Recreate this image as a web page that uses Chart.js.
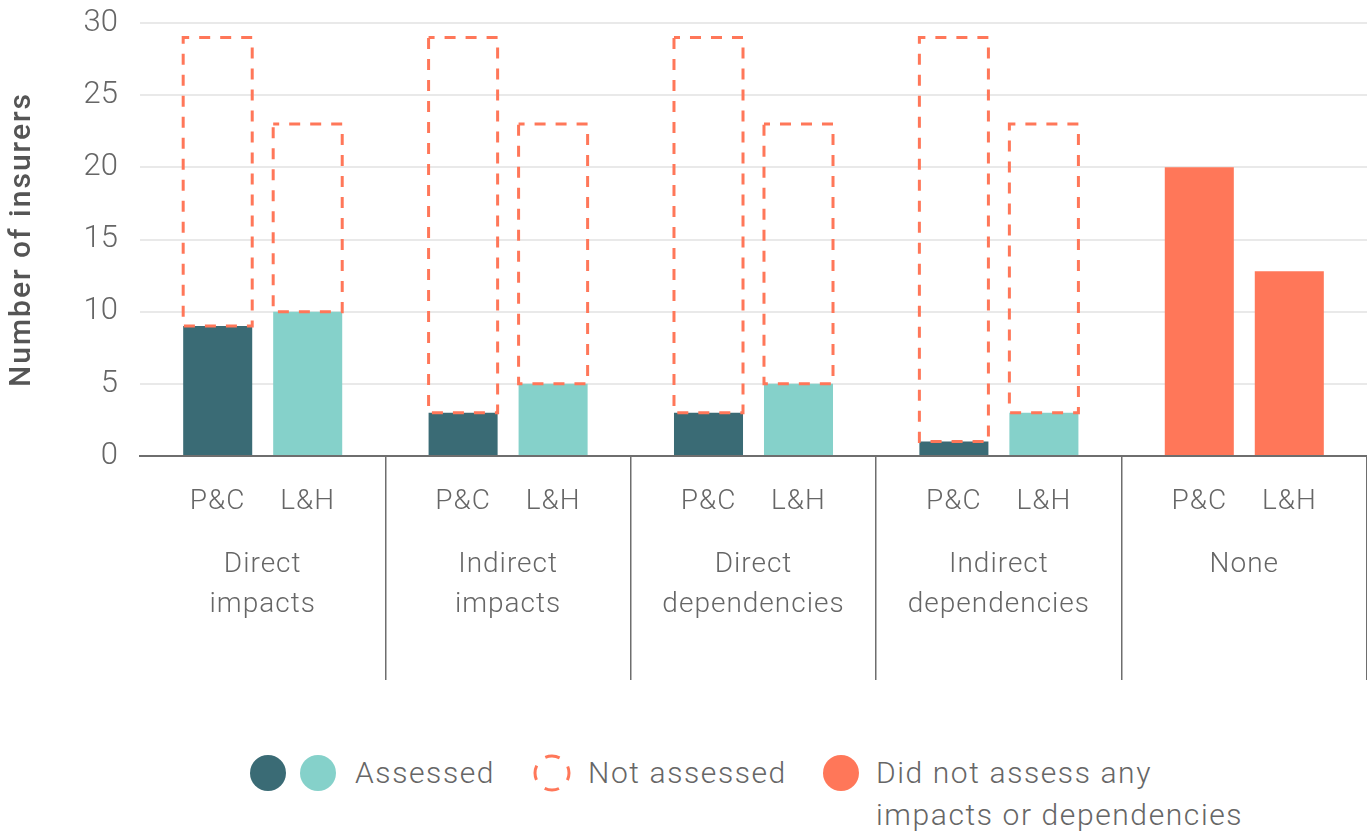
<!DOCTYPE html>
<html>
<head>
<meta charset="utf-8">
<title>Number of insurers assessing impacts and dependencies</title>
<script src="https://cdn.jsdelivr.net/npm/chart.js@4.4.1/dist/chart.umd.min.js"></script>
<style>
  html, body { margin: 0; padding: 0; background: #fff; }
  body { width: 1367px; height: 832px; position: relative; overflow: hidden;
         font-family: Roboto, "Helvetica Neue", Arial, sans-serif; }
  #wrap { position: absolute; left: 0; top: 0; width: 1367px; height: 690px; }
  .dot { position: absolute; width: 36px; height: 36px; border-radius: 50%; }
  .key { position: absolute; font-size: 30px; font-weight: 300; color: #666;
         letter-spacing: 1.6px; line-height: 42px; white-space: nowrap; }
</style>
</head>
<body>
<div id="wrap"><canvas id="chart"></canvas></div>

<!-- legend -->
<div class="dot" style="left:250px; top:755px; background:#3A6B75;"></div>
<div class="dot" style="left:300px; top:755px; background:#85D1CA;"></div>
<div class="key" style="left:355px; top:752px;">Assessed</div>
<svg style="position:absolute; left:533px; top:754px;" width="38" height="38">
  <circle cx="19" cy="19" r="17" fill="none" stroke="#FF7759" stroke-width="3"
          stroke-dasharray="14.7 12" stroke-dashoffset="7.35"></circle>
</svg>
<div class="key" style="left:588px; top:752px;">Not assessed</div>
<div class="dot" style="left:823px; top:755px; background:#FF7759;"></div>
<div class="key" style="left:876px; top:752px;">Did not assess any<br>impacts or dependencies</div>

<script>
/* ---------- data ---------- */
const GROUPS = [
  ["Direct", "impacts"],
  ["Indirect", "impacts"],
  ["Direct", "dependencies"],
  ["Indirect", "dependencies"],
  ["None"],
];
const SEGMENTS = ["P&C", "L&H"];
const STACKS = ["pc", "lh"];

const PC_ASSESSED     = [9, 3, 3, 1, null];
const PC_NOT_ASSESSED = [20, 26, 26, 28, null];
const LH_ASSESSED     = [10, 5, 5, 3, null];
const LH_NOT_ASSESSED = [13, 18, 18, 20, null];
const PC_NONE         = [null, null, null, null, 20];
const LH_NONE         = [null, null, null, null, 12.8];

const Y_MIN = 0, Y_MAX = 30, Y_STEP = 5;

/* ---------- colours ---------- */
const DARK_TEAL = "#3A6B75";
const LIGHT_TEAL = "#85D1CA";
const CORAL = "#FF7759";
const TEXT = "#666";

// x position of the bar drawn for a given category / stack
function barX(chart, index, stack) {
  const sets = chart.data.datasets;
  for (let di = 0; di < sets.length; di++) {
    if (sets[di].stack === stack && sets[di].data[index] != null) {
      return chart.getDatasetMeta(di).data[index].x;
    }
  }
  return chart.scales.x.getPixelForValue(index);
}

// "not assessed" bars are outlined with a dashed stroke, no fill
const dashedBars = {
  id: "dashedBars",
  afterDatasetsDraw(chart) {
    const ctx = chart.ctx;
    ctx.save();
    ctx.strokeStyle = CORAL;
    ctx.lineWidth = 3;
    ctx.setLineDash([11, 10]);
    ctx.lineDashOffset = 5;
    chart.data.datasets.forEach((ds, di) => {
      if (!ds.dashed) return;
      chart.getDatasetMeta(di).data.forEach((bar, i) => {
        if (ds.data[i] == null) return;
        const { x, y, base, width } = bar.getProps(["x", "y", "base", "width"], true);
        ctx.strokeRect(x - width / 2, y, width, base - y);
      });
    });
    ctx.restore();
  },
};

// segment labels, group names and the y title
const axisLabels = {
  id: "axisLabels",
  afterDraw(chart) {
    const { ctx, chartArea, scales: { x } } = chart;
    ctx.save();
    ctx.fillStyle = TEXT;
    ctx.textAlign = "center";
    ctx.textBaseline = "middle";
    ctx.font = "300 28px Roboto";
    ctx.letterSpacing = "1px";
    GROUPS.forEach((lines, i) => {
      SEGMENTS.forEach((seg, s) => {
        ctx.fillText(seg, barX(chart, i, STACKS[s]), chartArea.bottom + 46);
      });
      lines.forEach((line, l) => {
        ctx.fillText(line, x.getPixelForValue(i), chartArea.bottom + 109 + l * 40);
      });
    });

    ctx.font = "500 30px Roboto";
    ctx.fillStyle = "#555";
    ctx.letterSpacing = "2px";
    ctx.translate(22, (chartArea.top + chartArea.bottom) / 2);
    ctx.rotate(-Math.PI / 2);
    ctx.fillText("Number of insurers", 0, 0);
    ctx.restore();
  },
};

new Chart(document.getElementById("chart"), {
  type: "bar",
  data: {
    labels: GROUPS.map((g) => g.join(" ")),
    datasets: [
      { label: "P&C assessed", data: PC_ASSESSED, stack: "pc", backgroundColor: DARK_TEAL },
      { label: "P&C not assessed", data: PC_NOT_ASSESSED, stack: "pc", backgroundColor: "rgba(0,0,0,0)", dashed: true },
      { label: "P&C did not assess", data: PC_NONE, stack: "pc", backgroundColor: CORAL },
      { label: "L&H assessed", data: LH_ASSESSED, stack: "lh", backgroundColor: LIGHT_TEAL },
      { label: "L&H not assessed", data: LH_NOT_ASSESSED, stack: "lh", backgroundColor: "rgba(0,0,0,0)", dashed: true },
      { label: "L&H did not assess", data: LH_NONE, stack: "lh", backgroundColor: CORAL },
    ],
  },
  options: {
    responsive: true,
    maintainAspectRatio: false,
    animation: false,
    events: [],
    categoryPercentage: 0.7335,
    barPercentage: 0.767,
    borderWidth: 0,
    layout: { padding: { top: 23, right: 0, bottom: 10, left: 0 } },
    plugins: {
      legend: { display: false },
      tooltip: { enabled: false },
    },
    scales: {
      x: {
        stacked: true,
        offset: true,
        ticks: { display: false },
        grid: {
          offset: true,
          drawOnChartArea: false,
          tickLength: 224,
          lineWidth: 1.5,
          color: (c) => (c.index === 0 || c.index === GROUPS.length ? "rgba(0,0,0,0)" : "#6e6e6e"),
        },
        border: { display: true, color: "#6e6e6e", width: 2 },
      },
      y: {
        stacked: true,
        min: Y_MIN,
        max: Y_MAX,
        afterFit: (s) => {
          s.width = 140;
          s.paddingTop = 0;
          s.paddingBottom = 0;
        },
        ticks: {
          stepSize: Y_STEP,
          padding: 22,
          color: TEXT,
          font: { family: "Roboto", size: 31, weight: "300" },
        },
        grid: { color: "#e9e9e9", lineWidth: 2, drawTicks: false },
        border: { display: false },
      },
    },
  },
  plugins: [dashedBars, axisLabels],
});
</script>
</body>
</html>
